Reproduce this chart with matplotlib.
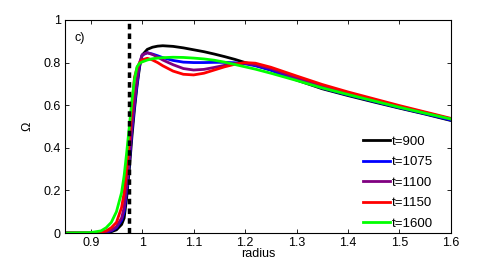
import matplotlib
matplotlib.use("Agg")
import matplotlib.pyplot as plt

plt.rcParams['font.family'] = ['Liberation Sans', 'DejaVu Sans']

# radius grid shared by all curves
radius = [0.85, 0.90, 0.92, 0.93, 0.94, 0.95, 0.96, 0.965, 0.97, 0.975, 0.98, 0.985,
          0.99, 0.995, 1.00, 1.01, 1.02, 1.03, 1.04, 1.06, 1.08, 1.10, 1.12, 1.14,
          1.16, 1.18, 1.20, 1.22, 1.25, 1.30, 1.35, 1.40, 1.45, 1.50, 1.55, 1.60]

omega_900 = [0, 0, 0, 0.002, 0.006, 0.015, 0.04, 0.07, 0.17, 0.30, 0.45, 0.58,
             0.69, 0.78, 0.835, 0.862, 0.872, 0.877, 0.879, 0.876, 0.869, 0.86, 0.851, 0.84,
             0.828, 0.815, 0.80, 0.787, 0.765, 0.718, 0.677, 0.645, 0.615, 0.586, 0.558, 0.528]
omega_1075 = [0, 0, 0.001, 0.004, 0.01, 0.025, 0.06, 0.10, 0.20, 0.33, 0.48, 0.60,
              0.70, 0.79, 0.835, 0.846, 0.84, 0.832, 0.823, 0.81, 0.802, 0.80, 0.80, 0.801,
              0.801, 0.799, 0.794, 0.785, 0.765, 0.72, 0.68, 0.648, 0.618, 0.588, 0.56, 0.53]
omega_1100 = [0, 0, 0.002, 0.006, 0.013, 0.03, 0.07, 0.12, 0.22, 0.35, 0.50, 0.62,
              0.72, 0.80, 0.836, 0.846, 0.838, 0.826, 0.812, 0.79, 0.772, 0.765, 0.768, 0.777,
              0.787, 0.795, 0.797, 0.79, 0.772, 0.728, 0.688, 0.655, 0.624, 0.594, 0.565, 0.535]
omega_1150 = [0, 0, 0.004, 0.01, 0.025, 0.05, 0.12, 0.19, 0.30, 0.44, 0.59, 0.73,
              0.775, 0.80, 0.813, 0.82, 0.812, 0.80, 0.785, 0.76, 0.745, 0.742, 0.75, 0.765,
              0.78, 0.792, 0.80, 0.797, 0.778, 0.737, 0.697, 0.662, 0.63, 0.598, 0.568, 0.538]
omega_1600 = [0, 0.002, 0.01, 0.025, 0.05, 0.10, 0.19, 0.27, 0.38, 0.50, 0.62, 0.72,
              0.78, 0.797, 0.803, 0.812, 0.818, 0.821, 0.823, 0.825, 0.824, 0.821, 0.817, 0.811,
              0.802, 0.791, 0.78, 0.769, 0.75, 0.716, 0.681, 0.65, 0.62, 0.59, 0.562, 0.535]

labels = ['t=900', 't=1075', 't=1100', 't=1150', 't=1600']
colors = ['black', '#0000ff', '#800080', '#ff0000', '#00ff00']
r_inner = 0.975

fig = plt.figure(figsize=(4.98, 2.66), dpi=100)
ax = fig.add_axes([0.1305, 0.124, 0.775, 0.801])

series = [omega_900, omega_1075, omega_1100, omega_1150, omega_1600]
for vals, lab, c in zip(series, labels, colors):
    ax.plot(radius, vals, color=c, lw=2, label=lab)

ax.axvline(r_inner, color='black', lw=2.5, ls=(0, (1.6, 1.2)), zorder=5)

ax.set_xlim(0.85, 1.6)
ax.set_ylim(0, 1)
ax.set_xticks([0.9, 1, 1.1, 1.2, 1.3, 1.4, 1.5, 1.6])
ax.set_xticklabels(['0.9', '1', '1.1', '1.2', '1.3', '1.4', '1.5', '1.6'])
ax.set_yticks([0, 0.2, 0.4, 0.6, 0.8, 1])
ax.set_yticklabels(['0', '0.2', '0.4', '0.6', '0.8', '1'])
ax.tick_params(direction='in', top=True, right=True, length=3, width=0.6, labelsize=9, pad=3)
for s in ax.spines.values():
    s.set_linewidth(0.8)

ax.set_xlabel('radius', fontsize=9, labelpad=-1)
ax.set_ylabel('\u03a9', fontsize=9, labelpad=7)
ax.text(0.025, 0.9, 'c)', transform=ax.transAxes, fontsize=9)

ax.legend(loc='lower right', bbox_to_anchor=(0.985, -0.04), frameon=False, fontsize=9.5,
          handlelength=2.0, labelspacing=0.62, handletextpad=0.2)

fig.savefig('out.png', dpi=100)
